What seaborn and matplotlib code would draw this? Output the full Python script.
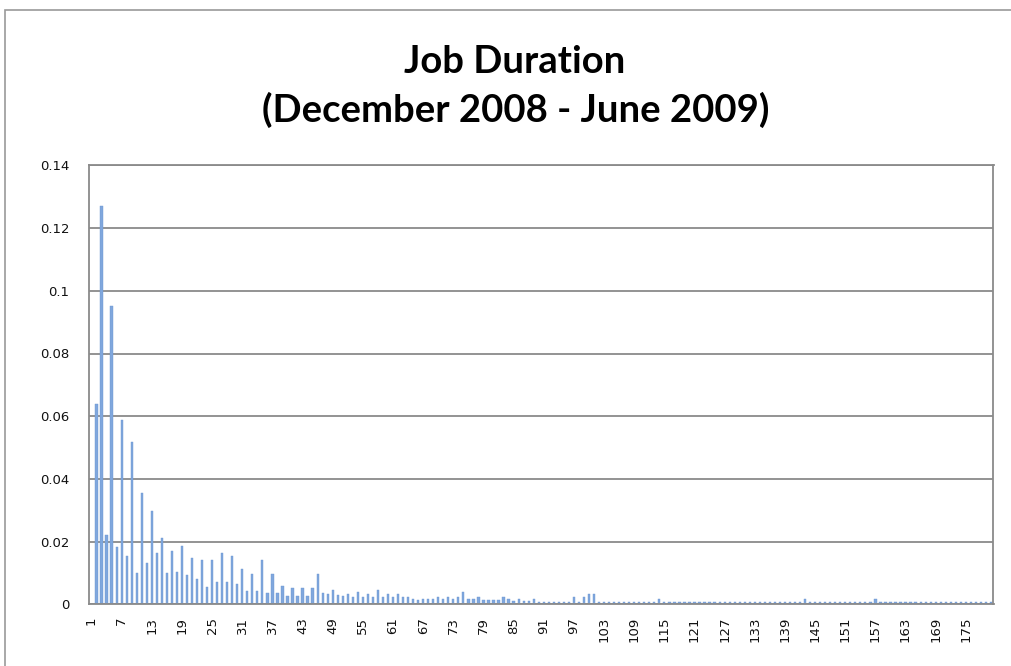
import matplotlib
matplotlib.use("Agg")
import matplotlib.pyplot as plt
from matplotlib.patches import Rectangle
import seaborn as sns
import pandas as pd

# Share of jobs by duration (1..180)
durations = list(range(1, 181))
share = [
    0.0000, 0.0640, 0.1270, 0.0220, 0.0950, 0.0184, 0.0588, 0.0155, 0.0519, 0.0099,
    0.0355, 0.0133, 0.0297, 0.0163, 0.0210, 0.0101, 0.0170, 0.0103, 0.0185, 0.0095,
    0.0149, 0.0081, 0.0141, 0.0056, 0.0141, 0.0072, 0.0165, 0.0072, 0.0154, 0.0065,
    0.0112, 0.0043, 0.0097, 0.0043, 0.0141, 0.0037, 0.0096, 0.0037, 0.0059, 0.0028,
    0.0053, 0.0028, 0.0053, 0.0028, 0.0053, 0.0096, 0.0037, 0.0032, 0.0046, 0.0030,
    0.0028, 0.0032, 0.0022, 0.0038, 0.0024, 0.0032, 0.0024, 0.0046, 0.0022, 0.0032,
    0.0022, 0.0032, 0.0024, 0.0024, 0.0016, 0.0014, 0.0016, 0.0016, 0.0016, 0.0024,
    0.0016, 0.0024, 0.0016, 0.0024, 0.0038, 0.0016, 0.0016, 0.0024, 0.0014, 0.0014,
    0.0014, 0.0014, 0.0024, 0.0016, 0.0012, 0.0016, 0.0012, 0.0012, 0.0016, 0.0008,
    0.0008, 0.0008, 0.0007, 0.0008, 0.0008, 0.0007, 0.0024, 0.0008, 0.0024, 0.0033,
    0.0033, 0.0008, 0.0008, 0.0007, 0.0008, 0.0008, 0.0008, 0.0007, 0.0008, 0.0008,
    0.0008, 0.0007, 0.0008, 0.0016, 0.0008, 0.0008, 0.0007, 0.0008, 0.0008, 0.0008,
    0.0007, 0.0008, 0.0008, 0.0008, 0.0007, 0.0008, 0.0008, 0.0008, 0.0007, 0.0008,
    0.0008, 0.0008, 0.0007, 0.0008, 0.0008, 0.0008, 0.0007, 0.0008, 0.0008, 0.0008,
    0.0007, 0.0008, 0.0016, 0.0008, 0.0008, 0.0007, 0.0008, 0.0008, 0.0008, 0.0007,
    0.0008, 0.0008, 0.0008, 0.0007, 0.0008, 0.0008, 0.0016, 0.0008, 0.0008, 0.0007,
    0.0008, 0.0008, 0.0008, 0.0007, 0.0008, 0.0008, 0.0008, 0.0007, 0.0008, 0.0008,
    0.0008, 0.0007, 0.0008, 0.0008, 0.0008, 0.0007, 0.0008, 0.0008, 0.0008, 0.0007,
]
y_ticks = [0, 0.02, 0.04, 0.06, 0.08, 0.1, 0.12, 0.14]
y_tick_labels = ["0", "0.02", "0.04", "0.06", "0.08", "0.1", "0.12", "0.14"]
title_lines = ["Job Duration", "(December 2008 - June 2009)"]

df = pd.DataFrame({"duration": [str(d) for d in durations], "share": share})

sns.set_theme(style="white")
plt.rcParams["font.family"] = ["DejaVu Sans"]

W, H = 1012, 666
fig = plt.figure(figsize=(W / 100, H / 100), dpi=100)
fig.patch.set_facecolor("white")

# outer chart frame
fig.patches.append(Rectangle((5 / W, -0.05), 1.2, 1 - 10 / H + 0.05,
                             transform=fig.transFigure, fill=False,
                             edgecolor="#9a9a9a", linewidth=1.2))

ax = fig.add_axes([89 / W, 1 - 604.3 / H, (993.5 - 89) / W, (604.3 - 165.4) / H])

sns.barplot(data=df, x="duration", y="share", order=df["duration"].tolist(),
            color="#80A7DD", saturation=1, width=0.45, edgecolor="#6C96D3",
            linewidth=0.3, ax=ax)

ax.set_xlim(-0.5, len(durations) - 0.5)
ax.set_ylim(0, 0.14)
ax.set_yticks(y_ticks)
ax.set_yticklabels(y_tick_labels, fontsize=9.5, color="#111111")
ax.yaxis.grid(True, color="#8a8a8a", linewidth=1.3)
ax.set_axisbelow(True)

tick_idx = list(range(0, len(durations), 6))
ax.set_xticks(tick_idx)
ax.set_xticklabels([str(durations[i]) for i in tick_idx], rotation=90,
                   fontsize=9.5, color="#111111")
ax.tick_params(axis="both", length=0)
ax.tick_params(axis="y", pad=14)
ax.tick_params(axis="x", pad=9)
ax.set_xlabel("")
ax.set_ylabel("")

for s in ax.spines.values():
    s.set_visible(True)
    s.set_color("#8a8a8a")
    s.set_linewidth(1.3)

fig.text(515 / W, 1 - 62 / H, title_lines[0], ha="center", va="center",
         fontsize=27.5, fontweight="bold", color="black",
         family=["Lato", "DejaVu Sans"])
fig.text(516 / W, 1 - 110 / H, title_lines[1], ha="center", va="center",
         fontsize=27.5, fontweight="bold", color="black",
         family=["Lato", "DejaVu Sans"])

fig.savefig("out.png", dpi=100, facecolor="white")
